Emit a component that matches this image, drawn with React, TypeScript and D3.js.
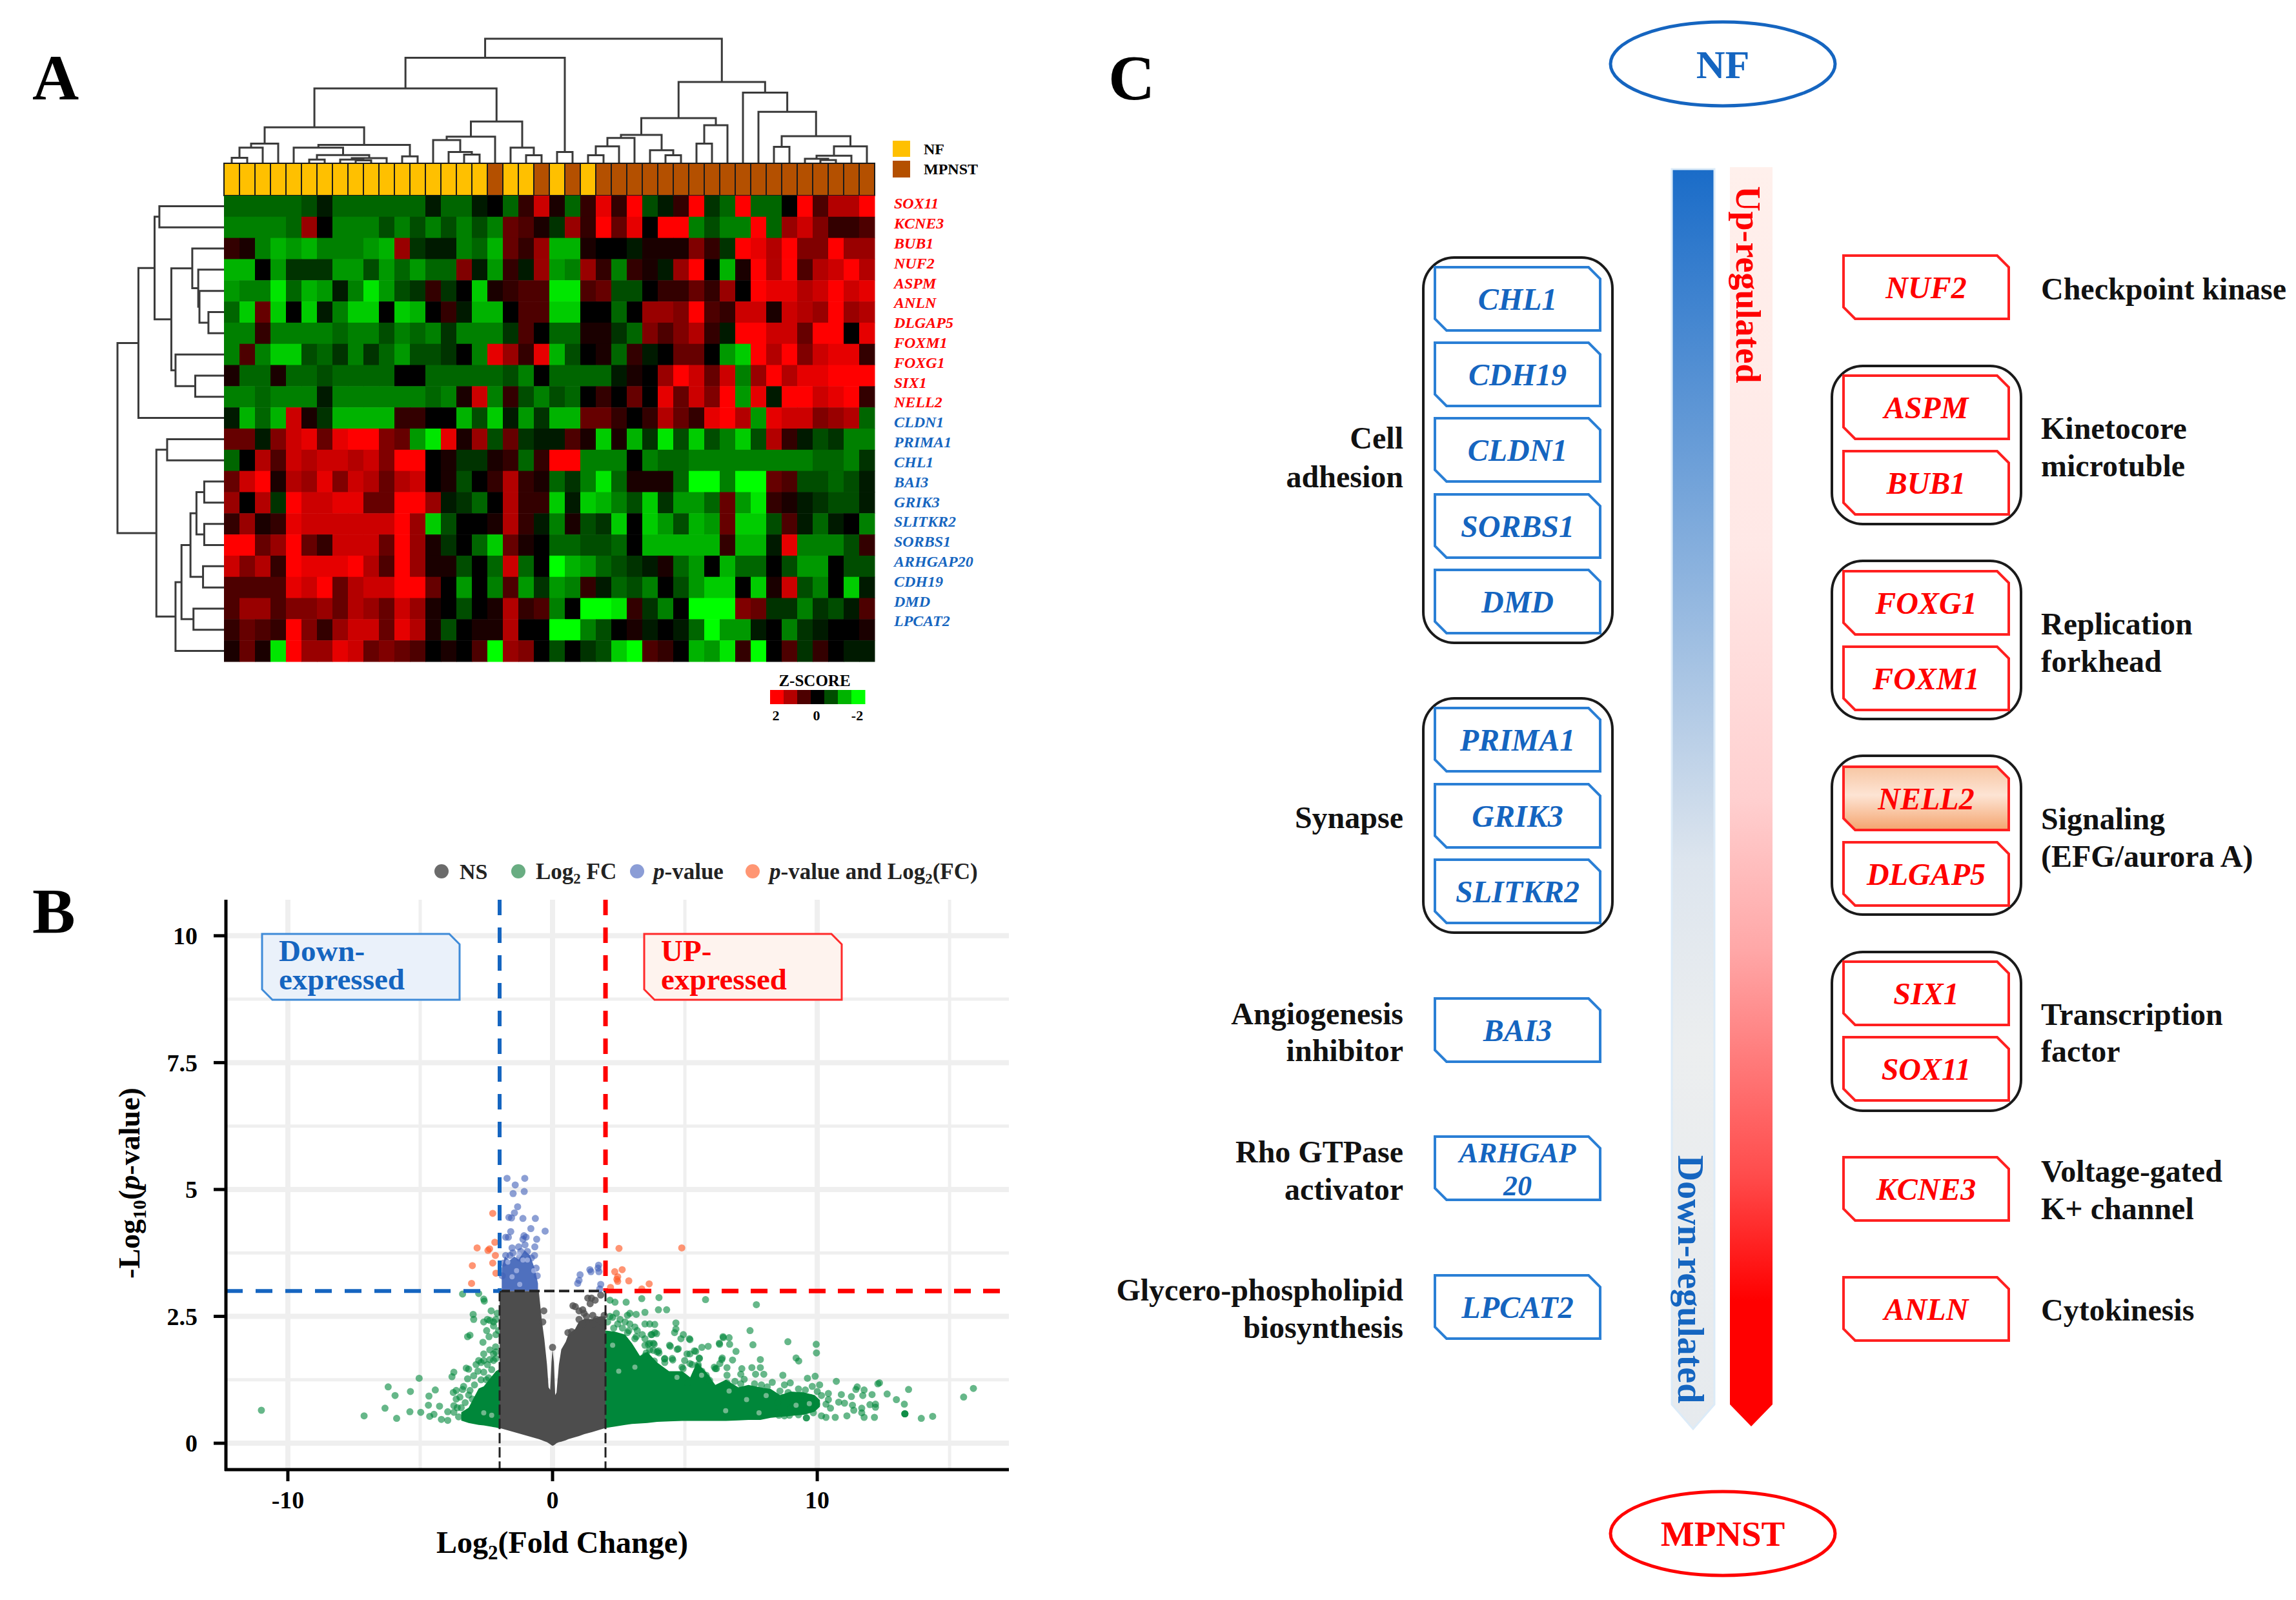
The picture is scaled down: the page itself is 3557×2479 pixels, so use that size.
import React from 'react';
import * as d3 from 'd3';

const W = 3557;
const H = 2479;
const SERIF = '"Liberation Serif", serif';
const BLUE = '#1565c0';
const RED = '#ff0000';

// ---- panel A data ----
const geneLabels = ['SOX11', 'KCNE3', 'BUB1', 'NUF2', 'ASPM', 'ANLN', 'DLGAP5', 'FOXM1', 'FOXG1', 'SIX1', 'NELL2', 'CLDN1', 'PRIMA1', 'CHL1', 'BAI3', 'GRIK3', 'SLITKR2', 'SORBS1', 'ARHGAP20', 'CDH19', 'DMD', 'LPCAT2'];
const redLabelCount = 11;

// 1 = NF, 0 = MPNST
const sampleGroups = [1, 1, 1, 1, 1, 1, 1, 1, 1, 1, 1, 1, 1, 1, 1, 1, 1, 0, 1, 1, 0, 1, 0, 1, 0, 0, 0, 0, 0, 0, 0, 0, 0, 0, 0, 0, 0, 0, 0, 0, 0, 0];

// cell values in tenths of the colour range, + is red, - is green
const heatRows = [
  [-4, -4, -4, -4, -4, -3, -1, -4, -4, -4, -4, -4, -4, -1, -4, -4, -1, 0, -4, 2, 8, 1, -4, 2, 9, 2, 10, -3, -1, 2, 10, -2, -4, 10, -4, -4, 0, 10, 3, 7, 7, 10],
  [-5, -5, -5, -5, -4, 6, 0, -5, -5, -5, -3, -5, -3, -5, -3, -5, -3, -5, 4, 3, 1, -2, 6, 2, 10, 4, 9, 0, 10, 10, -5, -3, -5, -5, 10, -4, 6, 8, 5, 2, 2, 3],
  [2, 1, -5, -7, -6, -7, -5, -5, -5, -6, -7, 6, -2, -1, -1, -5, -4, -7, 4, 2, 6, -7, -7, 1, 0, 0, -1, 1, 1, 1, 5, 2, -2, 10, 9, 7, 10, 5, 5, 10, 6, 6],
  [-7, -7, 0, -6, -2, -2, -2, -6, -6, -3, -6, -4, -6, -4, -4, 5, -1, -6, 2, -1, 6, -6, -5, 6, 2, -5, 2, 1, -1, 6, 10, 0, -7, 1, 10, 7, 10, 3, 7, 8, 10, 7],
  [-6, -5, -5, -9, -4, -7, -6, -1, -5, -9, -6, -3, -2, 2, -2, 0, -8, 1, 2, 3, 3, -9, -9, 3, 4, -3, -3, 0, 2, 2, 4, 2, 6, 0, 10, 9, 9, 7, 8, 10, 8, 9],
  [-4, -8, 4, -8, 0, -8, -1, -5, -8, -8, 0, -8, -7, 0, 2, -1, -7, -7, 0, 3, 3, -8, -8, 0, 0, -4, 0, 6, 6, 5, 10, 3, 2, 8, 8, 1, 8, 7, 6, 10, 6, 7],
  [-5, -5, 2, -5, -5, -5, -5, -4, -5, -5, -3, -5, -4, -5, -2, -5, -5, -5, -2, 3, 0, -4, -4, 1, 1, -2, -4, 5, 3, 5, 7, 2, -1, 10, 10, 8, 8, 4, 10, 10, 0, 9],
  [-5, 3, -5, -8, -8, -3, -4, -2, -5, -2, -4, -6, -3, -3, -2, 0, -5, 9, 6, 2, 9, -7, -3, 0, 1, -4, 2, -1, 0, 4, 4, 0, -6, -8, 10, 7, 10, 5, 8, 9, 9, 2],
  [1, -4, -4, 1, -4, -4, -3, -4, -4, -4, -4, 0, 0, -4, -4, -4, -4, -4, -3, -5, 0, -4, -4, -4, -4, -1, 1, 0, 6, 10, 8, 4, 8, -5, 6, 10, 7, 9, 9, 10, 10, 10],
  [-5, -5, -4, -5, -5, -5, -1, -5, -5, -5, -5, -5, -5, -4, -5, 1, 8, -5, 2, -3, -5, -3, -4, 0, 2, 0, 4, 0, 9, 4, 8, 5, 10, -6, 9, -1, 10, 10, 8, 9, 10, 2],
  [-1, -7, -4, -7, 8, 1, -2, -7, -7, -7, -7, 2, 2, 0, 0, -7, -3, -8, -1, -6, -2, -7, -7, 4, 4, 2, 0, 2, 7, 4, 2, 9, 10, 7, -6, 9, 8, 8, 5, 6, 7, -4],
  [4, 4, -1, 5, 8, 9, 4, 9, 10, 10, 5, 4, -6, -9, 9, 1, 6, -3, 4, -2, -1, -1, 3, 1, -8, 1, -7, -2, -9, -3, -8, -3, -5, -8, -3, 7, 2, -1, -3, -2, -5, -5],
  [-4, 0, 7, 3, 8, 7, 8, 8, 7, 8, 5, 10, 10, 0, 1, -2, -2, 1, 2, -4, 2, 10, 10, -5, -5, -5, 0, -5, -4, -4, -5, -5, -5, -5, -5, -5, -5, -5, -4, -4, -5, -2],
  [4, 8, 10, 1, 7, 6, 9, 5, 8, 7, 4, 7, 8, 0, 1, -3, 0, 2, 7, 2, 1, -4, -2, -5, -9, -4, 1, 1, 1, -4, -10, -10, -5, -10, -10, 4, 3, -3, -3, -4, -3, -1],
  [6, 0, 7, -2, 10, 8, 8, 9, 9, 4, 4, 10, 10, 6, -1, -2, -4, 0, 7, 2, 2, -8, -1, -8, -7, -5, -3, -8, -2, -6, -6, -4, 4, -6, -9, 2, 1, -1, -2, -3, -3, -1],
  [2, 6, 1, 2, 9, 8, 8, 8, 8, 8, 8, 10, 6, -8, -3, 0, 0, 1, 7, 2, -1, -5, 1, -3, -2, -8, 0, -8, -6, -3, -7, -6, 4, -8, -8, -3, 3, -1, -4, -1, 0, -5],
  [10, 10, 4, 6, 10, 4, 2, 8, 8, 8, 4, 10, 6, 1, -2, 0, -4, -8, 4, 1, 0, -4, -4, -3, -3, -4, 0, -7, -7, -7, -7, -7, 2, -7, -7, -1, 9, -5, -5, -5, -3, 2],
  [8, 5, 7, 2, 10, 9, 9, 9, 10, 7, 3, 10, 6, 1, 1, -3, 0, -4, 8, -4, 0, -10, -7, -6, -4, -3, -2, -1, 1, -4, -6, 0, -7, -4, -4, 0, -3, -6, -6, 0, -3, -3],
  [3, 3, 3, 3, 9, 8, 10, 4, 7, 8, 8, 10, 10, 4, 0, -6, 0, -5, 3, -6, -2, -6, -5, 2, -1, -4, -3, -5, 0, -3, -6, -8, -8, 0, -8, 1, 8, -3, -5, 0, -8, -1],
  [3, 6, 6, 3, 5, 5, 6, 4, 7, 6, 4, 8, 6, 1, 0, -3, 0, 1, 7, 2, 3, -5, 0, -10, -10, -9, 2, -2, -5, 0, -10, -10, -10, 5, 4, -2, -2, -5, -2, -3, -1, 3],
  [2, 4, 3, 2, 10, 5, 2, 6, 8, 8, 4, 9, 7, 1, -3, 0, 1, 1, 7, 0, 0, -10, -10, -5, -3, 0, 1, -1, 0, -1, -4, -10, -6, -6, -1, 0, -5, -2, -1, 0, 0, 1],
  [1, 4, 1, -9, 10, 6, 6, 9, 8, 4, 5, 4, 3, 0, 1, 0, 3, -10, 6, 5, 0, -3, 0, -2, -3, -8, -10, 3, 2, 0, -7, -6, -9, 2, -10, 0, 3, -2, 2, 0, -1, -1],
];

// dendrograms: [merge height, left, right], 0 = a leaf (leaves run in drawing order)
type Tree = 0 | [number, Tree, Tree];
const colTree: Tree = [487,
  [412,
    [292,
      [139,
        [75, [59, [19, 0, 0], 0], 0],
        [70, [59, 0, [30, [12, 0, 0], [18, [12, 0, [9, 0, 0]], 0]]], [25, 0, 0]]],
      [162, [102, [89, 0, [42, 0, [32, 0, 0]]], 0], [59, 0, [29, 0, 0]]]],
    [42, 0, 0]],
  [317,
    [175,
      [109, [97, [64, [29, 0, 0], 0], 0], [49, 0, [29, 0, 0]]],
      [147, [75, 0, 0], 0]],
    [275, 0, [200, 0, [104, [62, 0, 0], [64, [27, [15, 0, [10, 0, 0]], 0], 0]]]]],
];
const rowTree: Tree = [178,
  [143, [116, [108, 0, 0], [88, [53, 0, [43, 0, [41, 0, [26, 0, 0]]]], [81, 0, [48, 0, 0]]]], 0],
  [113, [95, 0, 0], [81, [71, [56, [46, [33, 0, 0], [33, 0, 0]], [35, 0, 0]], [51, 0, 0]], 0]],
];

const zLegend = [10, 7, 3, 0, -3, -7, -10];

// ---- panel B data ----
const volcanoXTicks = [-10, 0, 10];
const volcanoYTicks = [0, 2.5, 5, 7.5, 10];
const volcanoXMinor = [-5, 5, 15];
const volcanoYMinor = [1.25, 3.75, 6.25, 8.75];

// dense clouds read as outlines: [log2FC, lower edge, upper edge]
const nsCloud: [number, number, number][] = [
  [-2, 0.3, 3], [-0.52, 0.08, 3], [-0.4, 0.06, 2.4], [-0.31, 0.04, 2.05], [-0.21, 0.02, 1.55], [-0.15, 0, 1.1], [-0.09, -0.02, 1.05], [-0.04, -0.04, 1.6],
  [0, -0.05, 1.85], [0.05, -0.04, 1.6], [0.1, -0.02, 0.95], [0.15, 0, 1], [0.24, 0.02, 1.55], [0.33, 0.03, 1.85], [0.5, 0.06, 2], [0.6, 0.08, 2.15],
  [0.85, 0.12, 2.25], [1, 0.14, 2.4], [1.2, 0.18, 2.45], [1.5, 0.22, 2.45], [1.8, 0.27, 2.5], [2, 0.3, 2.5],
];
const fcCloudRight: [number, number, number][] = [
  [2, 0.3, 2.22], [2.36, 0.33, 2.2], [2.74, 0.36, 2.14], [3, 0.38, 1.97], [3.3, 0.39, 1.72], [3.58, 0.4, 1.8], [3.95, 0.42, 1.59], [4.4, 0.43, 1.42], [4.9, 0.44, 1.42],
  [5.2, 0.44, 1.3], [5.45, 0.44, 1.59], [5.8, 0.44, 1.4], [6.15, 0.44, 1.15], [6.55, 0.44, 1.25], [7.02, 0.45, 1.1], [7.4, 0.46, 1.15], [7.85, 0.46, 1.1], [8.24, 0.5, 1.07],
  [8.6, 0.52, 0.95], [9, 0.54, 1.02], [9.5, 0.56, 1], [9.9, 0.62, 0.95], [10.1, 0.72, 0.85],
];
const fcCloudLeft: [number, number, number][] = [
  [-3.45, 0.445, 0.61], [-3.17, 0.4, 0.7], [-2.79, 0.36, 1.08], [-2.6, 0.35, 1.12], [-2.14, 0.31, 1.42], [-2, 0.29, 1.46],
];
const pCloud: [number, number, number][] = [
  [-1.92, 3, 3.45], [-1.8, 3, 3.68], [-1.62, 3, 3.6], [-1.45, 3, 3.68], [-1.28, 3, 3.62], [-1.05, 3, 3.8], [-0.85, 3, 3.7], [-0.68, 3, 3.45], [-0.55, 3, 3.15],
];

// single points: [log2FC, -log10 p]
const nsPoints = [[0.86, 2.69], [1, 2.61], [1.14, 2.63], [1.33, 2.86], [1.47, 2.86], [1.61, 2.82], [1.82, 2.92], [1.52, 2.52], [1.28, 2.5], [1, 2.44], [0.77, 2.71], [1.66, 2.44], [1.85, 2.39], [1.95, 2.52], [-0.33, 2.61], [-0.37, 2.39], [0, 1.89], [0.58, 2.18], [1.19, 2.56], [1.42, 2.75], [1.14, 2.35], [1.52, 2.35], [0.72, 2.2]];
const fcPoints = [
  [-11, 0.65], [-7.12, 0.54], [-6.33, 0.69], [-5.89, 0.49], [-6.21, 1.11], [-5.95, 0.94], [-5.37, 1.02], [-5.39, 0.62], [-5.04, 1.28], [-4.98, 0.61], [-4.67, 0.93], [-4.43, 1.05], [-4.69, 0.75], [-4.27, 0.73], [-4.64, 0.53], [-4.48, 0.57], [-4.2, 0.47], [-3.96, 0.45], [-3.96, 0.62], [-3.73, 0.61], [-3.8, 1.31], [-3.73, 1.4], [-3.75, 1], [-3.64, 0.87], [-3.4, 1.06], [-3.5, 0.91], [-3.26, 1.48], [-3.17, 1.46], [-3.21, 1.27], [-3.12, 1.04], [-2.79, 1.63], [-2.7, 1.59], [-2.37, 1.65], [-2.23, 1.76], [-2.14, 1.67], [-2.6, 1.4], [-2.82, 1.42], [-2.7, 1.25], [-3.03, 0.87], [-2.63, 1.99], [-3.12, 2.13], [-3.21, 2.1], [-2.49, 2.22], [-2.6, 2.39], [-2.37, 2.42], [-2.23, 2.39], [-2.32, 2.61], [-2.46, 2.44], [-2.14, 2.44], [-2.09, 2.56], [-2.23, 2.31], [-3, 2.54], [-2.98, 2.44], [-2.58, 2.8], [-2.6, 2.84], [-3.4, 2.94], [-2.79, 2.95], [-3.6, 0.7], [-3.3, 0.8], [-2.95, 1.15], [-2.5, 1.25], [-2.3, 1.45], [-2.15, 1.9], [-2.4, 2.1], [-3.55, 0.52],
  [-2.6, 1.63], [-2.89, 1.55], [-2.46, 1.55], [-2.98, 1.33], [-2.42, 1.29], [-3.36, 1.12], [-3.64, 1.04], [-3.17, 0.95], [-3.45, 0.7], [-3.73, 0.74], [-2.23, 1.63], [-2.14, 1.8], [-2.37, 1.84], [-2.6, 1.76], [-2.04, 2.22], [-2.14, 2.14],
  [2.36, 2.78], [2.17, 2.82], [2.78, 2.78], [3.37, 2.85], [4.02, 2.87], [5.78, 2.83], [3.49, 2.58], [4, 2.63], [4.31, 2.63], [3.16, 2.54], [2.92, 2.56], [2.41, 2.56], [2.17, 2.5], [3.49, 2.35], [3.67, 2.35], [3.86, 2.34], [4.66, 2.37], [4.66, 2.25], [4.61, 2.18], [4.94, 2.14], [4.85, 2.06], [5.17, 2.06], [2.46, 2.35], [2.74, 2.39], [3.11, 2.29], [2.88, 2.22], [3.86, 2.18], [3.72, 2.14], [3.49, 2.06], [3.16, 2.1], [3.81, 1.97], [3.67, 1.84], [4, 1.82], [4.42, 1.93], [4.75, 1.86], [4.52, 1.67], [4.24, 1.67], [5.08, 1.76], [5.36, 1.82], [5.64, 1.89], [5.88, 1.91], [4.89, 1.5], [5.55, 1.67], [5.5, 1.55], [6.3, 1.97], [6.44, 2.1], [6.11, 1.5], [6.39, 1.65],
  [3.54, 1.78], [3.8, 1.83], [4.02, 1.78], [3.62, 1.95], [3.84, 1.95], [3.75, 2.14], [3.93, 2.16], [4.45, 1.91], [4.71, 1.85], [4.23, 1.66], [4.54, 1.64], [3.84, 1.62], [4.93, 1.47], [5.19, 1.57], [5.54, 1.68], [5.5, 1.51], [5.8, 1.34], [5.93, 1.24], [6.15, 1.47], [6.59, 1.34], [6.59, 1.19], [6.89, 1.22], [7.24, 1.26], [7.63, 1.17], [7.89, 1.15], [8.11, 1.11], [7.11, 1.17], [5.1, 1.19],
  [2.08, 2.39], [2.27, 2.48], [2.55, 2.44], [2.83, 2.52], [2.31, 2.27], [2.64, 2.27], [2.92, 2.35], [3.2, 2.22], [3.39, 2.14], [3.49, 1.93], [3.67, 1.97], [3.95, 1.8], [3.49, 1.72], [4.24, 1.59], [4.99, 1.63], [5.27, 1.55], [5.64, 1.42], [5.83, 1.29], [3.11, 2.06], [2.83, 2.18],
  [7.7, 2.73], [7.46, 2.22], [7.57, 1.94], [8.89, 2], [9.96, 1.95], [9.97, 1.78], [9.2, 1.68], [9.3, 1.62], [7.85, 1.65], [6.93, 1.81], [6.67, 2.08], [6.45, 2.08], [6.31, 1.95], [6.69, 1.95], [5.41, 1.81], [5.19, 1.76], [5.19, 2.04], [6.41, 1.68], [6.8, 1.64], [6.19, 1.47], [6.59, 1.49], [6.32, 1.57], [7.15, 1.47], [7.53, 1.49], [7.85, 1.49], [7.98, 1.36], [7.67, 1.36], [7.11, 1.36], [8.7, 1.34], [9.63, 1.28], [9.92, 1.32], [10.72, 1.22], [10.09, 1.15], [12.29, 1.17], [12.35, 1.19], [11.51, 1.11], [11.46, 1.06], [11.77, 1.05], [11.72, 0.94], [12.07, 0.96], [10.91, 0.96], [11.29, 0.92], [12.64, 0.97], [12.99, 0.86], [13.45, 1.06], [13.29, 0.77], [13.31, 0.58], [13.31, 0.58], [13.31, 0.58], [13.93, 0.49], [14.36, 0.53], [15.53, 0.91], [15.9, 1.08], [12.16, 0.51], [11.77, 0.51], [11.12, 0.54], [10.68, 0.51], [10.33, 0.51], [9.59, 0.5], [9.59, 0.5], [11.03, 0.79], [10.81, 0.81], [11.33, 0.75], [11.38, 0.65], [11.68, 0.69], [11.68, 0.6], [11.99, 0.76], [12.2, 0.77], [12.2, 0.71], [10.42, 0.86], [10.33, 0.77], [9.98, 0.77], [10.16, 0.94], [10.42, 0.98], [10.5, 0.69], [10.16, 0.54], [9.46, 0.77], [9.29, 0.56], [9.02, 0.69], [8.76, 0.54], [9.11, 0.86], [8.59, 1.03], [8.76, 1.15], [8.98, 1.19], [9.29, 1.07], [9.55, 1.05], [9.81, 1.12], [8.5, 0.8], [8.7, 0.9], [8.9, 1], [8.45, 0.6], [8.95, 0.55], [9.4, 0.95], [9.75, 0.9], [10, 1.02], [9.85, 0.6], [9.6, 0.65], [8.3, 1.2], [8.55, 0.55],
];
// lighter gaps seen inside the dense green cloud
const fcGaps = [[6.67, 1.03], [6.54, 0.64], [5.63, 1.34], [7.33, 0.86], [7.8, 0.6], [8.07, 0.94], [3.11, 1.5], [2.5, 1.42], [2.27, 1.93], [9.2, 0.75], [9.7, 0.78], [4.7, 1.3], [-2.6, 0.6], [-2.3, 0.55]];
const pPoints = [
  [-1.72, 5.22], [-1.05, 5.22], [-1.41, 5.09], [-1.49, 4.92], [-1.07, 4.96], [-1.32, 4.66], [-1.44, 4.54], [-1.65, 4.45], [-1.55, 4.44], [-1.12, 4.43], [-0.65, 4.43], [-0.28, 4.18], [-0.82, 4.23], [-1.58, 4.17], [-1.67, 4.06], [-1.08, 4.09], [-1, 4.06], [-0.6, 4.02], [-1.12, 4.02], [-1.77, 4.06], [-1.53, 3.85], [-1.28, 3.87], [-1.04, 3.91], [-0.67, 3.87], [-1.77, 3.7], [-1.61, 3.7], [-1.25, 3.65], [-0.95, 3.78], [-0.8, 3.65], [-0.68, 3.7], [-1.85, 3.55], [-0.62, 3.45], [-0.58, 3.3], [-1.2, 3.78], [-1.5, 3.75], [-1.9, 3.3],
  [1, 3.21], [1.04, 3.32], [1.41, 3.42], [1.45, 3.38], [1.74, 3.51], [1.75, 3.38], [1.82, 3.13], [1.78, 3.04], [0.95, 3.15], [1.72, 3.45],
];
const pGaps = [[-1.28, 3.72], [-1.69, 3.57], [-1.12, 3.61], [-1.36, 3.4], [-0.95, 3.61], [-0.71, 3.4], [-1.53, 3.28], [-1.24, 3.13]];
const bothPoints = [
  [-2.26, 4.53], [-2.85, 3.85], [-2.38, 3.83], [-2.44, 3.8], [-2.18, 3.96], [-2.16, 3.7], [-2.26, 3.55], [-3.03, 3.5], [-3.06, 3.15], [-2.14, 3.35],
  [2.51, 3.84], [4.88, 3.85], [2.63, 3.42], [2.35, 3.38], [2.46, 3.28], [2.46, 3.19], [2.88, 3.2], [3.65, 3.14], [3.37, 3.04], [2.19, 3.07], [2.43, 3.23],
];

// ---- panel C data ----
const downGenes = ['CHL1', 'CDH19', 'CLDN1', 'SORBS1', 'DMD', 'PRIMA1', 'GRIK3', 'SLITKR2', 'BAI3', 'ARHGAP20', 'LPCAT2'];
const downTops = [414, 531, 648, 766, 883, 1097, 1215, 1332, 1547, 1761, 1976];
const upGenes = ['NUF2', 'ASPM', 'BUB1', 'FOXG1', 'FOXM1', 'NELL2', 'DLGAP5', 'SIX1', 'SOX11', 'KCNE3', 'ANLN'];
const upTops = [396, 582, 699, 885, 1002, 1188, 1305, 1490, 1607, 1793, 1979];
const downGroups = [[399, 996], [1082, 1445]];
const upGroups = [[567, 812], [869, 1114], [1171, 1417], [1475, 1721]];
const leftNotes: [string, number][] = [['Cell', 678], ['adhesion', 738], ['Synapse', 1266], ['Angiogenesis', 1570], ['inhibitor', 1627], ['Rho GTPase', 1784], ['activator', 1842], ['Glycero-phospholipid', 1998], ['biosynthesis', 2056]];
const rightNotes: [string, number][] = [['Checkpoint kinase', 447], ['Kinetocore', 663], ['microtuble', 721], ['Replication', 966], ['forkhead', 1024], ['Signaling', 1268], ['(EFG/aurora A)', 1326], ['Transcription', 1571], ['factor', 1628], ['Voltage-gated', 1814], ['K+ channel', 1872], ['Cytokinesis', 2029]];

// ---- helpers ----
function snipBox(x: number, y: number, w: number, h: number, s = 18) {
  const p = d3.path();
  p.moveTo(x, y);
  p.lineTo(x + w - s, y);
  p.lineTo(x + w, y + s);
  p.lineTo(x + w, y + h);
  p.lineTo(x + s, y + h);
  p.lineTo(x, y + h - s);
  p.closePath();
  return p.toString();
}

// walks a dendrogram and returns its path; toXY turns (leaf position, height) into a point
function dendroPath(tree: Tree, leafPos: (i: number) => number, toXY: (pos: number, h: number) => [number, number]) {
  const p = d3.path();
  let leaf = 0;
  const walk = (n: Tree): [number, number] => {
    if (n === 0) return [leafPos(leaf++), 0];
    const [h, a, b] = n;
    const [pa, ha] = walk(a);
    const [pb, hb] = walk(b);
    p.moveTo(...toXY(pa, ha));
    p.lineTo(...toXY(pa, h));
    p.lineTo(...toXY(pb, h));
    p.lineTo(...toXY(pb, hb));
    return [(pa + pb) / 2, h];
  };
  walk(tree);
  return p.toString();
}

const Heatmap: React.FC = () => {
  const x = d3.scaleBand<number>().domain(d3.range(42)).range([347, 1355]);
  const y = d3.scaleBand<number>().domain(d3.range(22)).range([303, 1025]);
  const color = d3.scaleLinear<string>().domain([-10, 0, 10]).range(['#00ff00', '#000000', '#ff0000']);
  const colH = d3.scaleLinear().domain([0, 487]).range([252, 60]);
  const rowH = d3.scaleLinear().domain([0, 178]).range([347, 182]);
  const labelY = d3.scaleLinear().domain([0, 21]).range([315, 962]);
  const legendX = d3.scaleBand<number>().domain(d3.range(zLegend.length)).range([1193, 1340]);
  const colPath = dendroPath(colTree, i => (x(i) as number) + x.bandwidth() / 2, (p, h) => [p, colH(h)]);
  const rowPath = dendroPath(rowTree, i => (y(i) as number) + y.bandwidth() / 2, (p, h) => [rowH(h), p]);
  return (
    <g>
      <path d={colPath} fill="none" stroke="#3a3a3a" strokeWidth={3} />
      <path d={rowPath} fill="none" stroke="#3a3a3a" strokeWidth={3} />
      {sampleGroups.map((g, i) => (
        <rect key={i} x={x(i)} y={253} width={x.bandwidth()} height={50} fill={g ? '#ffc000' : '#b45000'} stroke="#1a1a1a" strokeWidth={2} />
      ))}
      {heatRows.map((row, r) => row.map((v, c) => (
        <rect key={`${r}-${c}`} x={x(c)} y={y(r)} width={x.bandwidth() + 0.5} height={y.bandwidth() + 0.5} fill={color(v)} />
      )))}
      {geneLabels.map((g, i) => (
        <text key={g} x={1385} y={labelY(i)} dy="0.35em" fontSize={24} fontStyle="italic" fontWeight="bold" fill={i < redLabelCount ? RED : BLUE}>{g}</text>
      ))}
      <rect x={1383} y={218} width={27} height={25} fill="#ffc000" />
      <rect x={1383} y={249} width={27} height={26} fill="#b45000" />
      <text x={1431} y={231} dy="0.35em" fontSize={24} fontWeight="bold">NF</text>
      <text x={1431} y={262} dy="0.35em" fontSize={24} fontWeight="bold">MPNST</text>
      <text x={1262} y={1054} dy="0.35em" textAnchor="middle" fontSize={25} fontWeight="bold">Z-SCORE</text>
      {zLegend.map((v, i) => (
        <rect key={i} x={legendX(i)} y={1069} width={legendX.bandwidth() + 0.5} height={22} fill={color(v)} />
      ))}
      {[['2', 1202], ['0', 1265], ['-2', 1328]].map(([t, px]) => (
        <text key={t} x={px} y={1108} dy="0.35em" textAnchor="middle" fontSize={22} fontWeight="bold">{t}</text>
      ))}
    </g>
  );
};

const Volcano: React.FC = () => {
  const x = d3.scaleLinear().domain([-12.34, 17.24]).range([350, 1563]);
  const y = d3.scaleLinear().domain([-0.52, 10.71]).range([2277, 1394]);
  const cloud = d3.area<[number, number, number]>().x(d => x(d[0])).y0(d => y(d[1])).y1(d => y(d[2]));
  const dots = (pts: number[][], fill: string, op: number, r = 5.5) =>
    pts.map((d, i) => <circle key={i} cx={x(d[0])} cy={y(d[1])} r={r} fill={fill} fillOpacity={op} />);
  const grid = '#efefef';
  return (
    <g>
      {volcanoYMinor.map(t => <line key={t} x1={350} x2={1563} y1={y(t)} y2={y(t)} stroke={grid} strokeWidth={5} />)}
      {volcanoXMinor.map(t => <line key={t} x1={x(t)} x2={x(t)} y1={1394} y2={2277} stroke={grid} strokeWidth={5} />)}
      {volcanoYTicks.map(t => <line key={t} x1={350} x2={1563} y1={y(t)} y2={y(t)} stroke={grid} strokeWidth={8} />)}
      {volcanoXTicks.map(t => <line key={t} x1={x(t)} x2={x(t)} y1={1394} y2={2277} stroke={grid} strokeWidth={8} />)}

      <path d={cloud(fcCloudLeft) as string} fill="#00873a" />
      <path d={cloud(fcCloudRight) as string} fill="#00873a" />
      {dots(fcPoints, '#00873a', 0.6)}
      {dots(fcGaps, '#8cc4a2', 0.8, 4)}
      <path d={cloud(nsCloud) as string} fill="#4d4d4d" />
      {dots(nsPoints, '#4d4d4d', 0.8)}
      <path d={cloud(pCloud) as string} fill="#4f70be" />
      {dots(pPoints, '#3f5fb8', 0.6)}
      {dots(pGaps, '#a9b8e6', 0.75, 4)}
      {dots(bothPoints, '#ff5a28', 0.65)}

      {/* cut-off lines */}
      <line x1={x(-2)} x2={x(-2)} y1={y(3)} y2={2277} stroke="#222" strokeWidth={3} strokeDasharray="16 6" />
      <line x1={x(2)} x2={x(2)} y1={y(3)} y2={2277} stroke="#222" strokeWidth={3} strokeDasharray="16 6" />
      <line x1={x(-2)} x2={x(2)} y1={y(3)} y2={y(3)} stroke="#222" strokeWidth={4} strokeDasharray="16 7" />
      <line x1={x(-2)} x2={x(-2)} y1={1394} y2={y(3)} stroke={BLUE} strokeWidth={6} strokeDasharray="24 19" />
      <line x1={350} x2={x(-2)} y1={y(3)} y2={y(3)} stroke={BLUE} strokeWidth={6} strokeDasharray="26 20" />
      <line x1={x(2)} x2={x(2)} y1={1394} y2={y(3)} stroke={RED} strokeWidth={7} strokeDasharray="24 19" />
      <line x1={x(2)} x2={1563} y1={y(3)} y2={y(3)} stroke={RED} strokeWidth={7} strokeDasharray="26 19" />

      {/* axes */}
      <line x1={350} x2={350} y1={1394} y2={2279} stroke="#000" strokeWidth={5} />
      <line x1={348} x2={1563} y1={2277} y2={2277} stroke="#000" strokeWidth={5} />
      {volcanoYTicks.map(t => (
        <g key={t}>
          <line x1={331} x2={350} y1={y(t)} y2={y(t)} stroke="#000" strokeWidth={5} />
          <text x={306} y={y(t)} dy="0.35em" textAnchor="end" fontSize={38} fontWeight="bold">{t}</text>
        </g>
      ))}
      {volcanoXTicks.map(t => (
        <g key={t}>
          <line x1={x(t)} x2={x(t)} y1={2277} y2={2295} stroke="#000" strokeWidth={5} />
          <text x={x(t)} y={2337} textAnchor="middle" fontSize={38} fontWeight="bold">{t}</text>
        </g>
      ))}
      <text x={871} y={2406} textAnchor="middle" fontSize={48} fontWeight="bold">
        Log<tspan fontSize={31} dy={10}>2</tspan><tspan dy={-10}>(Fold Change)</tspan>
      </text>
      <text transform="translate(200,1833) rotate(-90)" textAnchor="middle" dy="0.35em" fontSize={46} fontWeight="bold">
        -Log<tspan fontSize={30} dy={10}>10</tspan><tspan dy={-10}>(</tspan><tspan fontStyle="italic">p</tspan>-value)
      </text>

      {/* legend */}
      <circle cx={684} cy={1350} r={11} fill="#6b6b6b" />
      <text x={712} y={1362} fontSize={34} fontWeight="bold" fill="#222">NS</text>
      <circle cx={803} cy={1350} r={11} fill="#69ad82" />
      <text x={830} y={1362} fontSize={35} fontWeight="bold" fill="#222">Log<tspan fontSize={23} dy={7}>2</tspan><tspan dy={-7}> FC</tspan></text>
      <circle cx={987} cy={1350} r={11} fill="#8b9dd6" />
      <text x={1012} y={1362} fontSize={35} fontWeight="bold" fill="#222"><tspan fontStyle="italic">p</tspan>-value</text>
      <circle cx={1166} cy={1350} r={11} fill="#ff9673" />
      <text x={1192} y={1362} fontSize={35} fontWeight="bold" fill="#222"><tspan fontStyle="italic">p</tspan>-value and Log<tspan fontSize={23} dy={7}>2</tspan><tspan dy={-7}>(FC)</tspan></text>

      {/* call-outs */}
      <path d={snipBox(406, 1447, 306, 102, 16)} fill="#eaf1fa" stroke="#3f8bd8" strokeWidth={3} />
      <text x={432} y={1489} fontSize={47} fontWeight="bold" fill={BLUE}>Down-<tspan x={432} dy={44}>expressed</tspan></text>
      <path d={snipBox(998, 1447, 306, 102, 16)} fill="#fef3ee" stroke="#ff2a2a" strokeWidth={3} />
      <text x={1024} y={1489} fontSize={47} fontWeight="bold" fill={RED}>UP-<tspan x={1024} dy={44}>expressed</tspan></text>
    </g>
  );
};

const GeneBox: React.FC<{ name: string; top: number; left: number; color: string; stroke: string; fill?: string }> = ({ name, top, left, color, stroke, fill }) => {
  const w = 256;
  const h = 98;
  const cx = left + w / 2;
  const lines = name === 'ARHGAP20' ? ['ARHGAP', '20'] : [name];
  return (
    <g>
      <path d={snipBox(left, top, w, h)} fill={fill || '#fff'} stroke={stroke} strokeWidth={4} />
      {lines.length === 1
        ? <text x={cx} y={top + h / 2} dy="0.35em" textAnchor="middle" fontSize={48} fontStyle="italic" fontWeight="bold" fill={color}>{name}</text>
        : lines.map((l, i) => (
          <text key={l} x={cx} y={top + 25 + i * 51} dy="0.35em" textAnchor="middle" fontSize={44} fontStyle="italic" fontWeight="bold" fill={color}>{l}</text>
        ))}
    </g>
  );
};

const Regulation: React.FC = () => {
  const arrow = (x0: number, x1: number, top: number, shoulder: number, tip: number) => {
    const line = d3.line();
    return line([[x0, top], [x1, top], [x1, shoulder], [(x0 + x1) / 2, tip], [x0, shoulder]]) + 'Z';
  };
  return (
    <g>
      <defs>
        <linearGradient id="downGrad" x1="0" y1="0" x2="0" y2="1">
          <stop offset="0" stopColor="#1a6cc8" />
          <stop offset="0.55" stopColor="#dde5ee" />
          <stop offset="0.7" stopColor="#eceeef" />
          <stop offset="1" stopColor="#e6eaee" />
        </linearGradient>
        <linearGradient id="upGrad" x1="0" y1="0" x2="0" y2="1">
          <stop offset="0" stopColor="#fff0ec" />
          <stop offset="0.3" stopColor="#ffe8e6" />
          <stop offset="0.5" stopColor="#ffd0d0" />
          <stop offset="0.62" stopColor="#ffa8a8" />
          <stop offset="0.8" stopColor="#ff4c4c" />
          <stop offset="0.9" stopColor="#ff0000" />
          <stop offset="1" stopColor="#ff0000" />
        </linearGradient>
        <linearGradient id="nellGrad" x1="0" y1="0" x2="0" y2="1">
          <stop offset="0" stopColor="#f7c6a3" />
          <stop offset="0.45" stopColor="#fde4d4" />
          <stop offset="1" stopColor="#f4a46e" />
        </linearGradient>
      </defs>

      <ellipse cx={2669} cy={99} rx={174} ry={65} fill="#fff" stroke={BLUE} strokeWidth={5} />
      <text x={2669} y={99} dy="0.35em" textAnchor="middle" fontSize={62} fontWeight="bold" fill={BLUE}>NF</text>
      <ellipse cx={2669} cy={2376} rx={174} ry={65} fill="#fff" stroke={RED} strokeWidth={5} />
      <text x={2669} y={2376} dy="0.35em" textAnchor="middle" fontSize={55} fontWeight="bold" fill={RED}>MPNST</text>

      <path d={arrow(2590, 2656, 262, 2176, 2214)} fill="url(#downGrad)" stroke="#dcebf8" strokeWidth={3} />
      <path d={arrow(2680, 2746, 259, 2176, 2210)} fill="url(#upGrad)" />
      <text transform="translate(2620,1982) rotate(90)" textAnchor="middle" dy="0.35em" fontSize={56} fontWeight="bold" fill={BLUE}>Down-regulated</text>
      <text transform="translate(2709,441) rotate(90)" textAnchor="middle" dy="0.35em" fontSize={54} fontWeight="bold" fill={RED}>Up-regulated</text>

      {downGroups.map(([a, b]) => <rect key={a} x={2205} y={a} width={293} height={b - a} rx={48} fill="none" stroke="#1a1a1a" strokeWidth={4} />)}
      {upGroups.map(([a, b]) => <rect key={a} x={2838} y={a} width={293} height={b - a} rx={48} fill="none" stroke="#1a1a1a" strokeWidth={4} />)}
      {downGenes.map((g, i) => <GeneBox key={g} name={g} top={downTops[i]} left={2223} color={BLUE} stroke="#2a7fd5" />)}
      {upGenes.map((g, i) => <GeneBox key={g} name={g} top={upTops[i]} left={2856} color={RED} stroke="#ff2020" fill={g === 'NELL2' ? 'url(#nellGrad)' : undefined} />)}

      {leftNotes.map(([t, py]) => <text key={t} x={2174} y={py} dy="0.35em" textAnchor="end" fontSize={48} fontWeight="bold" fill="#111">{t}</text>)}
      {rightNotes.map(([t, py]) => <text key={t} x={3162} y={py} dy="0.35em" fontSize={48} fontWeight="bold" fill="#111">{t}</text>)}
    </g>
  );
};

export default function App() {
  return (
    <div style={{ position: 'absolute', left: 0, top: 0 }}>
      <svg width={W} height={H} viewBox={`0 0 ${W} ${H}`} fontFamily={SERIF} style={{ display: 'block', background: '#fff' }}>
        <text x={50} y={154} fontSize={100} fontWeight="bold">A</text>
        <text x={50} y={1445} fontSize={100} fontWeight="bold">B</text>
        <text x={1717} y={154} fontSize={100} fontWeight="bold">C</text>
        <Heatmap />
        <Volcano />
        <Regulation />
      </svg>
    </div>
  );
}
